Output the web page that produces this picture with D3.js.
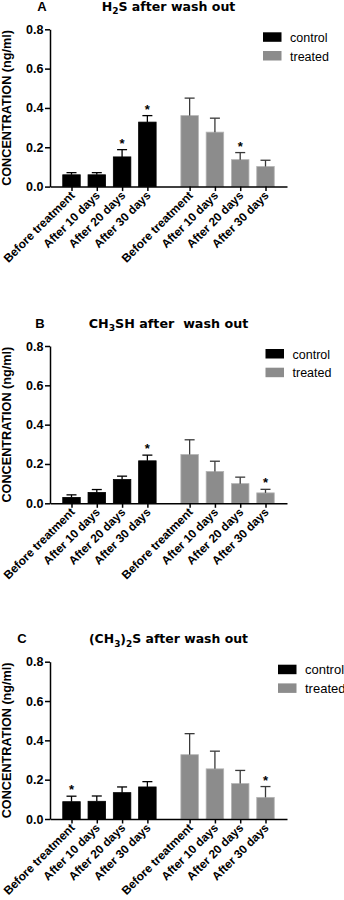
<!DOCTYPE html>
<html lang="en">
<head>
<meta charset="UTF-8">
<title>Concentration after wash out</title>
<style>
* { margin: 0; padding: 0; }
body { background: #fff; }
</style>
<script src="https://cdn.jsdelivr.net/npm/d3@7"></script>
</head>
<body>
<svg width="344" height="900" id="svg1"></svg>
<script>
// categories and groups
const categories = ["Before treatment", "After 10 days", "After 20 days", "After 30 days"];
const groups = ["control", "treated"];
const yTicks = [0, 0.2, 0.4, 0.6, 0.8];

// A: H2S (mean, SEM, significance)
const h2sControl = [0.060, 0.060, 0.151, 0.328];
const h2sControlErr = [0.011, 0.011, 0.037, 0.033];
const h2sControlStar = [0, 0, 1, 1];
const h2sTreated = [0.361, 0.277, 0.137, 0.102];
const h2sTreatedErr = [0.089, 0.071, 0.036, 0.032];
const h2sTreatedStar = [0, 0, 1, 0];

// B: CH3SH
const ch3shControl = [0.030, 0.055, 0.121, 0.216];
const ch3shControlErr = [0.013, 0.015, 0.017, 0.029];
const ch3shControlStar = [0, 0, 0, 1];
const ch3shTreated = [0.248, 0.162, 0.100, 0.053];
const ch3shTreatedErr = [0.075, 0.052, 0.033, 0.018];
const ch3shTreatedStar = [0, 0, 0, 1];

// C: (CH3)2S
const dmsControl = [0.088, 0.090, 0.134, 0.163];
const dmsControlErr = [0.028, 0.027, 0.029, 0.027];
const dmsControlStar = [1, 0, 0, 0];
const dmsTreated = [0.327, 0.255, 0.180, 0.110];
const dmsTreatedErr = [0.107, 0.090, 0.067, 0.055];
const dmsTreatedStar = [0, 0, 0, 1];

const svg = d3.select("#svg1");
const titleFont = "DejaVu Sans";
const font = "Liberation Sans, Arial, sans-serif";
const fill = { control: "#000", treated: "#8c8c8c" };
const edge = { control: "#000", treated: "#b4b4b4" };
const errColor = { control: "#000", treated: "#3a3a3a" };

const panels = [
  {
    letter: "A", letterX: 42, top: 29.3, legendX: 263, legendFont: 12.5, titleW: 134,
    title: [["H", 0], ["2", 1], ["S after wash out", 0]],
    series: {
      control: [h2sControl, h2sControlErr, h2sControlStar],
      treated: [h2sTreated, h2sTreatedErr, h2sTreatedStar]
    }
  },
  {
    letter: "B", letterX: 40, top: 346, legendX: 265.5, legendFont: 12.5, titleW: 160,
    title: [["CH", 0], ["3", 1], ["SH after  wash out", 0]],
    series: {
      control: [ch3shControl, ch3shControlErr, ch3shControlStar],
      treated: [ch3shTreated, ch3shTreatedErr, ch3shTreatedStar]
    }
  },
  {
    letter: "C", letterX: 22, top: 661.7, legendX: 278, legendFont: 13, titleW: 159,
    title: [["(CH", 0], ["3", 1], [")", 0], ["2", 1], ["S after wash out", 0]],
    series: {
      control: [dmsControl, dmsControlErr, dmsControlStar],
      treated: [dmsTreated, dmsTreatedErr, dmsTreatedStar]
    }
  }
];

panels.forEach(drawPanel);

// scale a text's font so that it gets the wanted width
function fitSize(node, base, width) {
  const len = node.getComputedTextLength();
  return len > 0 ? base * width / len : base;
}

function drawPanel(p) {
  const g = svg.append("g");
  const plotH = 157.3;
  const y0 = p.top + plotH;
  const y = d3.scaleLinear().domain([0, 0.8]).range([y0, p.top]);
  const x = d3.scaleLinear().domain([-0.85, 8.52]).range([50, 287]);
  // slot of a bar: control groups 0..3, treated after a gap
  const slot = (gi, i) => gi === 0 ? i : i + 4.67;
  const slots = [0, 1, 2, 3].map(i => slot(0, i)).concat([0, 1, 2, 3].map(i => slot(1, i)));
  const barW = 17.5;

  // letter + title
  g.append("text")
    .attr("x", p.letterX).attr("y", p.top - 18.5)
    .attr("text-anchor", "middle")
    .attr("font-family", font).attr("font-weight", "bold").attr("font-size", 13)
    .text(p.letter);

  const title = g.append("text")
    .attr("x", 168.5).attr("y", p.top - 18.5)
    .attr("text-anchor", "middle")
    .attr("font-family", titleFont).attr("font-weight", "bold")
    .style("white-space", "pre");
  let low = 0;
  p.title.forEach(([t, sub]) => {
    const dy = sub && !low ? 3.5 : (!sub && low ? -3.5 : 0);
    low = sub;
    title.append("tspan").attr("dy", dy).attr("font-size", sub ? 9 : 12.5).text(t);
  });

  // bars
  groups.forEach((grp, gi) => {
    const [vals, errs, stars] = p.series[grp];
    const d = vals.map((v, i) => ({ v, e: errs[i], s: stars[i], cx: x(slot(gi, i)) }));

    g.append("g").selectAll("rect").data(d).enter()
      .append("rect")
      .attr("x", b => b.cx - barW / 2)
      .attr("y", b => y(b.v))
      .attr("width", barW)
      .attr("height", b => y0 - y(b.v))
      .attr("fill", fill[grp])
      .attr("stroke", edge[grp])
      .attr("stroke-width", 0.8);

    const eb = g.append("g").attr("stroke", errColor[grp]).attr("stroke-width", 1.3);
    eb.selectAll("line.v").data(d).enter().append("line")
      .attr("class", "v")
      .attr("x1", b => b.cx).attr("x2", b => b.cx)
      .attr("y1", b => y(b.v)).attr("y2", b => y(b.v + b.e));
    eb.selectAll("line.c").data(d).enter().append("line")
      .attr("class", "c")
      .attr("x1", b => b.cx - 5).attr("x2", b => b.cx + 5)
      .attr("y1", b => y(b.v + b.e)).attr("y2", b => y(b.v + b.e));

    g.append("g").selectAll("text").data(d.filter(b => b.s)).enter()
      .append("text")
      .attr("x", b => b.cx)
      .attr("y", b => y(b.v + b.e) - 2)
      .attr("text-anchor", "middle")
      .attr("font-family", font).attr("font-weight", "bold").attr("font-size", 13)
      .text("*");
  });

  // axes
  const yAxis = g.append("g")
    .attr("transform", "translate(50,0)")
    .call(d3.axisLeft(y).tickValues(yTicks).tickFormat(d3.format(".1f")).tickSize(5).tickSizeOuter(0).tickPadding(1.5));
  yAxis.selectAll("text").attr("font-family", font).attr("font-weight", "bold").attr("font-size", 12.5).attr("fill", "#000");
  yAxis.selectAll("line, path").attr("stroke", "#000").attr("stroke-width", 1.5);

  const xAxis = g.append("g")
    .attr("transform", `translate(0,${y0})`)
    .call(d3.axisBottom(x).tickValues(slots).tickFormat((d, i) => categories[i % 4]).tickSize(4.5).tickSizeOuter(0));
  xAxis.selectAll("line, path").attr("stroke", "#000").attr("stroke-width", 1.5);
  const xt = xAxis.selectAll("text")
    .attr("font-family", font).attr("font-weight", "bold").attr("font-size", 12).attr("fill", "#000")
    .attr("text-anchor", "end")
    .attr("dy", 0)
    .attr("y", 0)
    .attr("transform", "translate(3.5,9.5) rotate(-45)");
  xt.attr("font-size", fitSize(xt.node(), 12, 95));

  // title width like the picture
  title.selectAll("tspan").attr("font-size", function () {
    return +d3.select(this).attr("font-size") * p.titleW / title.node().getComputedTextLength();
  });

  // y label
  const yl = g.append("text")
    .attr("transform", `translate(11,${p.top + plotH / 2}) rotate(-90)`)
    .attr("text-anchor", "middle")
    .attr("font-family", font).attr("font-weight", "bold").attr("font-size", 12)
    .text("CONCENTRATION (ng/ml)");
  yl.attr("font-size", fitSize(yl.node(), 12, 156));

  // legend
  const leg = g.append("g").selectAll("g").data(groups).enter().append("g")
    .attr("transform", (d, i) => `translate(${p.legendX},${p.top + 3 + i * 18.7})`);
  leg.append("rect")
    .attr("width", 18.5).attr("height", 9.5)
    .attr("fill", d => fill[d]);
  leg.append("text")
    .attr("x", 27).attr("y", 9.5)
    .attr("font-family", font).attr("font-size", p.legendFont)
    .text(d => d);
}
</script>
</body>
</html>
